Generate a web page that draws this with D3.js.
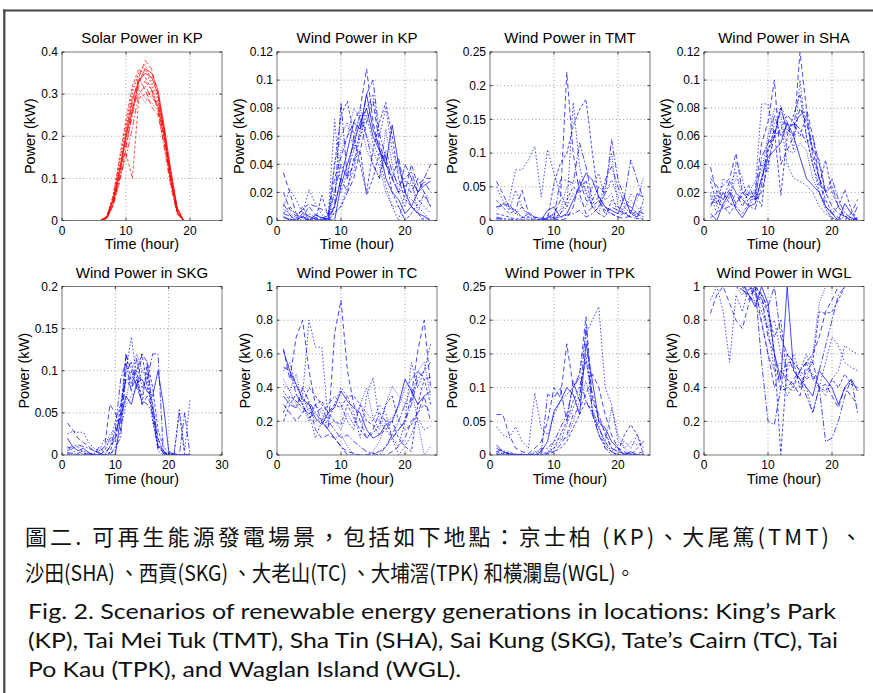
<!DOCTYPE html>
<html>
<head>
<meta charset="utf-8">
<script src="https://cdn.jsdelivr.net/npm/d3@7"></script>
<style>
  body { margin: 0; background: #fff; }
  svg { display: block; }
</style>
</head>
<body>
<div id="chart"></div>
<script>
// hourly time axis for the wind scenarios, and daylight hours for solar
const hours = [1,2,3,4,5,6,7,8,9,10,11,12,13,14,15,16,17,18,19,20,21,22,23,24];
const solarHours = [6,7,8,9,10,11,12,13,14,15,16,17,18,19];

const solarKP = [
  [0,0.010,0.050,0.12,0.20,0.28,0.34,0.38,0.36,0.30,0.20,0.10,0.020,0],
  [0,0.008,0.060,0.14,0.22,0.30,0.35,0.36,0.32,0.28,0.19,0.09,0.020,0],
  [0,0.005,0.040,0.10,0.18,0.25,0.32,0.33,0.31,0.26,0.17,0.08,0.015,0],
  [0,0.010,0.050,0.13,0.16,0.10,0.29,0.30,0.30,0.27,0.20,0.11,0.030,0],
  [0,0.006,0.045,0.11,0.20,0.27,0.30,0.28,0.31,0.30,0.22,0.12,0.025,0],
  [0,0.007,0.050,0.12,0.21,0.29,0.33,0.35,0.34,0.30,0.21,0.10,0.020,0],
  [0,0.005,0.035,0.09,0.17,0.26,0.34,0.31,0.27,0.25,0.18,0.09,0.020,0],
  [0,0.008,0.055,0.14,0.23,0.31,0.35,0.37,0.33,0.29,0.20,0.10,0.020,0],
  [0,0.006,0.040,0.10,0.15,0.22,0.30,0.32,0.29,0.28,0.21,0.11,0.030,0],
  [0,0.009,0.060,0.15,0.24,0.32,0.36,0.34,0.31,0.27,0.19,0.09,0.020,0],
  [0,0.007,0.050,0.12,0.19,0.27,0.31,0.29,0.28,0.26,0.20,0.10,0.020,0],
  [0,0.005,0.040,0.11,0.20,0.26,0.33,0.36,0.35,0.31,0.22,0.12,0.030,0]
];

const windKP = [
  [0.034,0.020,0.005,0.002,0.010,0.004,0.002,0.003,0.030,0.045,0.060,0.070,0.080,0.108,0.070,0.050,0.040,0.030,0.020,0.025,0.020,0.030,0.020,0.010],
  [0.010,0.022,0.015,0.005,0.022,0.012,0.004,0.002,0.072,0.020,0.035,0.050,0.060,0.080,0.090,0.060,0.080,0.050,0.035,0.028,0.025,0.015,0.010,0.005],
  [0.005,0.003,0.000,0.000,0.005,0.002,0.002,0.000,0.010,0.084,0.030,0.040,0.065,0.090,0.100,0.062,0.045,0.030,0.020,0.040,0.030,0.020,0.030,0.040],
  [0.000,0.000,0.000,0.010,0.000,0.000,0.018,0.003,0.040,0.075,0.085,0.060,0.040,0.020,0.050,0.070,0.084,0.060,0.030,0.015,0.010,0.005,0.000,0.000],
  [0.008,0.005,0.002,0.000,0.002,0.000,0.000,0.000,0.020,0.050,0.060,0.080,0.072,0.050,0.040,0.030,0.065,0.040,0.020,0.010,0.030,0.005,0.020,0.015],
  [0.002,0.001,0.000,0.003,0.000,0.004,0.002,0.001,0.000,0.025,0.040,0.055,0.070,0.080,0.060,0.050,0.040,0.068,0.040,0.020,0.010,0.005,0.003,0.000],
  [0.020,0.008,0.003,0.008,0.012,0.010,0.008,0.005,0.010,0.030,0.020,0.030,0.050,0.070,0.085,0.055,0.040,0.030,0.045,0.020,0.040,0.025,0.030,0.030],
  [0.000,0.000,0.000,0.000,0.000,0.000,0.000,0.000,0.005,0.010,0.025,0.035,0.060,0.075,0.055,0.045,0.025,0.010,0.000,0.020,0.015,0.010,0.005,0.000],
  [0.012,0.004,0.000,0.000,0.000,0.002,0.000,0.004,0.020,0.040,0.030,0.060,0.075,0.060,0.040,0.030,0.050,0.035,0.025,0.030,0.035,0.020,0.028,0.020],
  [0.005,0.010,0.004,0.002,0.000,0.000,0.001,0.000,0.006,0.010,0.020,0.045,0.050,0.018,0.030,0.048,0.045,0.020,0.010,0.000,0.005,0.012,0.018,0.010],
  [0.000,0.000,0.002,0.000,0.000,0.000,0.000,0.000,0.040,0.060,0.070,0.050,0.080,0.060,0.050,0.038,0.020,0.010,0.010,0.000,0.000,0.000,0.002,0.000],
  [0.003,0.000,0.000,0.005,0.003,0.001,0.000,0.002,0.010,0.030,0.050,0.070,0.065,0.090,0.065,0.052,0.030,0.020,0.015,0.005,0.010,0.020,0.025,0.028]
];

const windTMT = [
  [0.058,0.040,0.020,0.015,0.045,0.012,0.005,0.003,0.002,0.010,0.030,0.220,0.100,0.040,0.010,0.020,0.030,0.010,0.020,0.015,0.010,0.005,0.003,0.002],
  [0.020,0.025,0.030,0.075,0.075,0.090,0.110,0.035,0.105,0.070,0.040,0.020,0.175,0.080,0.040,0.020,0.020,0.040,0.060,0.035,0.020,0.030,0.020,0.010],
  [0.005,0.003,0.002,0.001,0.000,0.001,0.000,0.000,0.002,0.005,0.060,0.060,0.055,0.115,0.080,0.030,0.050,0.040,0.120,0.060,0.035,0.090,0.060,0.030],
  [0.030,0.020,0.010,0.015,0.005,0.005,0.000,0.000,0.003,0.055,0.085,0.100,0.140,0.165,0.180,0.100,0.030,0.015,0.010,0.005,0.012,0.005,0.010,0.000],
  [0.015,0.025,0.020,0.010,0.005,0.002,0.000,0.001,0.005,0.010,0.015,0.050,0.055,0.060,0.045,0.020,0.010,0.050,0.100,0.020,0.015,0.040,0.030,0.065],
  [0.001,0.000,0.000,0.000,0.001,0.000,0.000,0.001,0.015,0.020,0.005,0.010,0.030,0.050,0.070,0.060,0.035,0.020,0.015,0.010,0.035,0.010,0.040,0.035],
  [0.020,0.022,0.025,0.010,0.020,0.010,0.005,0.003,0.008,0.002,0.001,0.003,0.020,0.060,0.030,0.025,0.035,0.020,0.010,0.005,0.003,0.008,0.015,0.010],
  [0.050,0.030,0.015,0.045,0.020,0.005,0.002,0.000,0.001,0.002,0.010,0.020,0.040,0.030,0.020,0.050,0.070,0.030,0.040,0.010,0.020,0.010,0.005,0.020],
  [0.003,0.002,0.000,0.000,0.000,0.000,0.000,0.000,0.000,0.003,0.005,0.008,0.010,0.015,0.005,0.010,0.020,0.060,0.080,0.050,0.025,0.020,0.010,0.005],
  [0.010,0.008,0.005,0.002,0.004,0.010,0.003,0.000,0.005,0.004,0.010,0.030,0.050,0.040,0.060,0.020,0.010,0.005,0.030,0.020,0.010,0.015,0.005,0.030]
];

const windSHA = [
  [0.038,0.020,0.025,0.030,0.048,0.020,0.015,0.020,0.055,0.070,0.100,0.040,0.050,0.060,0.120,0.080,0.060,0.030,0.010,0.005,0.002,0.000,0.005,0.015],
  [0.020,0.010,0.030,0.025,0.035,0.015,0.018,0.022,0.083,0.083,0.060,0.082,0.070,0.050,0.100,0.060,0.040,0.020,0.008,0.002,0.000,0.003,0.000,0.002],
  [0.010,0.018,0.015,0.028,0.020,0.010,0.020,0.015,0.045,0.055,0.075,0.060,0.068,0.068,0.075,0.078,0.050,0.043,0.020,0.030,0.015,0.005,0.002,0.000],
  [0.028,0.012,0.020,0.012,0.010,0.005,0.012,0.020,0.010,0.050,0.065,0.018,0.060,0.075,0.090,0.060,0.040,0.025,0.043,0.020,0.010,0.022,0.008,0.000],
  [0.015,0.020,0.010,0.018,0.030,0.025,0.020,0.028,0.035,0.060,0.080,0.075,0.050,0.048,0.055,0.050,0.030,0.020,0.010,0.000,0.000,0.000,0.000,0.000],
  [0.005,0.000,0.012,0.020,0.008,0.002,0.010,0.012,0.030,0.045,0.050,0.055,0.070,0.060,0.045,0.030,0.025,0.020,0.010,0.005,0.000,0.012,0.005,0.000],
  [0.030,0.025,0.015,0.022,0.012,0.018,0.025,0.015,0.020,0.040,0.060,0.080,0.065,0.060,0.080,0.070,0.050,0.030,0.020,0.010,0.005,0.003,0.000,0.002],
  [0.018,0.005,0.020,0.015,0.042,0.030,0.010,0.018,0.040,0.035,0.070,0.070,0.040,0.030,0.028,0.025,0.020,0.010,0.005,0.002,0.000,0.000,0.000,0.000],
  [0.012,0.016,0.008,0.010,0.020,0.015,0.010,0.008,0.025,0.055,0.060,0.065,0.075,0.070,0.065,0.055,0.060,0.040,0.020,0.025,0.010,0.002,0.000,0.010],
  [0.002,0.005,0.010,0.005,0.012,0.020,0.018,0.015,0.030,0.050,0.060,0.080,0.062,0.070,0.060,0.075,0.045,0.030,0.015,0.005,0.010,0.003,0.002,0.000]
];

const windSKG = [
  [0.038,0.030,0.020,0.015,0.010,0.005,0.003,0.010,0.060,0.050,0.030,0.120,0.100,0.080,0.120,0.110,0.050,0.010,0.003,0.002,0.000,0.000,0.000,0.000],
  [0.025,0.028,0.027,0.027,0.015,0.008,0.005,0.020,0.015,0.040,0.060,0.100,0.140,0.090,0.070,0.100,0.040,0.010,0.005,0.000,0.000,0.055,0.005,0.065],
  [0.010,0.005,0.002,0.005,0.002,0.000,0.002,0.000,0.010,0.030,0.090,0.110,0.075,0.115,0.080,0.090,0.120,0.120,0.005,0.000,0.002,0.000,0.050,0.000],
  [0.005,0.008,0.010,0.003,0.000,0.000,0.000,0.000,0.003,0.025,0.050,0.120,0.085,0.100,0.060,0.110,0.080,0.030,0.010,0.003,0.000,0.050,0.000,0.000],
  [0.000,0.002,0.000,0.000,0.000,0.002,0.005,0.010,0.025,0.030,0.040,0.065,0.100,0.120,0.100,0.105,0.060,0.020,0.005,0.000,0.000,0.000,0.000,0.002],
  [0.020,0.010,0.005,0.008,0.003,0.000,0.000,0.000,0.000,0.000,0.045,0.070,0.060,0.085,0.090,0.075,0.070,0.100,0.060,0.005,0.000,0.000,0.000,0.000],
  [0.003,0.002,0.000,0.000,0.002,0.000,0.010,0.002,0.010,0.020,0.050,0.090,0.080,0.090,0.060,0.070,0.055,0.020,0.002,0.000,0.000,0.000,0.000,0.000],
  [0.002,0.000,0.000,0.002,0.000,0.000,0.000,0.000,0.002,0.005,0.030,0.060,0.070,0.080,0.100,0.090,0.040,0.010,0.002,0.000,0.000,0.000,0.000,0.000],
  [0.008,0.010,0.012,0.010,0.008,0.005,0.002,0.000,0.000,0.010,0.020,0.100,0.110,0.080,0.065,0.060,0.050,0.005,0.000,0.003,0.000,0.000,0.000,0.000],
  [0.001,0.000,0.000,0.000,0.000,0.001,0.000,0.005,0.020,0.015,0.060,0.090,0.090,0.100,0.120,0.080,0.060,0.012,0.003,0.000,0.000,0.000,0.000,0.000]
];

const windTC = [
  [0.63,0.45,0.70,0.80,0.50,0.30,0.20,0.15,0.72,0.92,0.50,0.30,0.20,0.10,0.15,0.25,0.20,0.10,0.15,0.20,0.35,0.62,0.80,0.40],
  [0.50,0.55,0.40,0.35,0.80,0.64,0.64,0.20,0.30,0.40,0.35,0.25,0.10,0.35,0.46,0.20,0.15,0.10,0.05,0.20,0.55,0.40,0.50,0.66],
  [0.35,0.30,0.28,0.40,0.32,0.25,0.20,0.15,0.10,0.05,0.00,0.00,0.00,0.00,0.01,0.02,0.05,0.10,0.15,0.20,0.30,0.45,0.50,0.55],
  [0.20,0.30,0.36,0.30,0.40,0.35,0.30,0.25,0.30,0.28,0.35,0.35,0.30,0.20,0.18,0.12,0.15,0.20,0.10,0.05,0.02,0.30,0.45,0.30],
  [0.45,0.38,0.30,0.25,0.28,0.20,0.22,0.18,0.20,0.15,0.25,0.18,0.30,0.40,0.22,0.15,0.30,0.41,0.35,0.30,0.40,0.20,0.00,0.05],
  [0.62,0.50,0.42,0.33,0.30,0.22,0.18,0.25,0.28,0.38,0.32,0.28,0.25,0.15,0.10,0.12,0.18,0.20,0.30,0.45,0.38,0.30,0.35,0.38],
  [0.30,0.25,0.20,0.25,0.32,0.15,0.10,0.12,0.10,0.05,0.02,0.01,0.00,0.00,0.00,0.00,0.00,0.02,0.05,0.10,0.20,0.25,0.35,0.20],
  [0.38,0.32,0.28,0.35,0.25,0.10,0.20,0.30,0.35,0.30,0.20,0.15,0.30,0.25,0.20,0.30,0.25,0.10,0.00,0.05,0.12,0.22,0.15,0.17],
  [0.52,0.50,0.36,0.30,0.22,0.25,0.28,0.20,0.15,0.10,0.12,0.08,0.05,0.02,0.01,0.00,0.05,0.12,0.20,0.30,0.32,0.50,0.45,0.46],
  [0.25,0.35,0.32,0.28,0.24,0.30,0.32,0.25,0.20,0.18,0.30,0.22,0.15,0.10,0.13,0.18,0.30,0.35,0.20,0.15,0.18,0.25,0.30,0.25],
  [0.42,0.38,0.48,0.30,0.20,0.30,0.25,0.15,0.10,0.12,0.05,0.00,0.00,0.00,0.02,0.08,0.20,0.22,0.28,0.40,0.45,0.50,0.55,0.35]
];

const windTPK = [
  [0.060,0.060,0.030,0.010,0.005,0.002,0.010,0.020,0.050,0.100,0.085,0.165,0.100,0.120,0.205,0.080,0.060,0.030,0.010,0.005,0.002,0.002,0.000,0.000],
  [0.042,0.030,0.025,0.042,0.020,0.010,0.092,0.040,0.030,0.060,0.080,0.090,0.100,0.120,0.180,0.200,0.220,0.100,0.075,0.020,0.010,0.020,0.015,0.020],
  [0.010,0.005,0.000,0.002,0.000,0.000,0.000,0.002,0.090,0.085,0.100,0.050,0.110,0.080,0.190,0.060,0.040,0.020,0.005,0.000,0.002,0.000,0.000,0.000],
  [0.005,0.002,0.005,0.000,0.000,0.000,0.000,0.000,0.002,0.010,0.030,0.050,0.080,0.100,0.140,0.090,0.050,0.035,0.010,0.005,0.030,0.045,0.030,0.000],
  [0.000,0.003,0.000,0.000,0.000,0.001,0.005,0.006,0.000,0.020,0.025,0.025,0.050,0.080,0.110,0.070,0.040,0.020,0.070,0.030,0.010,0.002,0.000,0.000],
  [0.015,0.005,0.002,0.000,0.000,0.000,0.000,0.005,0.020,0.065,0.080,0.100,0.090,0.060,0.165,0.110,0.050,0.040,0.020,0.010,0.000,0.005,0.000,0.000],
  [0.002,0.000,0.000,0.001,0.000,0.000,0.000,0.000,0.000,0.005,0.015,0.030,0.060,0.070,0.090,0.120,0.100,0.060,0.030,0.010,0.005,0.000,0.002,0.005],
  [0.000,0.000,0.000,0.000,0.002,0.000,0.000,0.000,0.005,0.010,0.020,0.045,0.070,0.090,0.150,0.065,0.045,0.010,0.005,0.015,0.020,0.010,0.030,0.010],
  [0.005,0.008,0.000,0.000,0.000,0.000,0.002,0.010,0.010,0.020,0.040,0.060,0.100,0.115,0.080,0.060,0.030,0.010,0.000,0.000,0.000,0.000,0.000,0.000],
  [0.001,0.000,0.002,0.000,0.000,0.000,0.000,0.000,0.003,0.005,0.010,0.020,0.040,0.060,0.080,0.065,0.030,0.015,0.005,0.000,0.000,0.000,0.010,0.020]
];

const windWGL = [
  [0.84,0.95,1.00,0.90,0.80,0.75,0.90,1.00,0.95,0.70,0.60,0.38,0.40,0.45,0.50,0.55,0.60,0.70,0.85,0.92,1.00,1.05,1.10,1.10],
  [0.92,1.00,0.85,0.55,0.95,0.85,1.00,0.97,0.90,0.75,0.50,0.45,0.35,0.42,0.50,0.60,0.45,0.40,0.35,0.45,0.50,0.65,0.62,0.60],
  [1.05,1.10,1.05,1.00,1.00,0.98,0.95,1.00,0.55,0.20,0.18,0.40,0.60,0.50,0.45,0.35,0.25,0.40,0.08,0.10,0.20,0.35,0.45,0.25],
  [1.10,1.05,1.05,1.02,1.00,1.05,1.00,0.98,0.96,0.85,0.60,0.00,0.55,0.55,0.40,0.50,0.55,0.85,0.84,0.85,0.92,1.00,1.05,1.10],
  [1.05,1.05,1.10,1.05,1.00,0.95,1.02,0.90,0.80,0.60,0.50,0.55,0.40,0.38,0.42,0.45,0.60,0.90,1.00,1.05,1.10,1.10,1.05,1.05],
  [1.10,1.10,1.05,1.00,1.05,1.02,0.95,0.88,1.00,0.90,0.60,0.45,1.00,0.50,0.45,0.40,0.35,0.50,0.45,0.40,0.30,0.40,0.45,0.38],
  [1.05,1.02,1.10,1.05,1.00,1.00,0.92,1.00,0.78,0.60,0.40,0.50,0.45,0.42,0.35,0.55,0.55,0.40,0.42,0.35,0.28,0.40,0.35,0.30],
  [1.10,1.10,1.10,1.05,1.05,1.00,1.00,0.95,0.85,0.75,0.80,0.60,0.50,0.60,0.48,0.40,0.25,0.40,0.55,0.70,0.65,0.55,0.52,0.50],
  [1.05,1.05,1.05,1.05,1.02,0.98,0.95,0.90,0.95,0.88,1.00,0.70,0.60,0.55,0.50,0.55,0.45,0.50,0.65,0.80,0.95,1.00,1.05,1.10],
  [1.10,1.05,1.05,1.10,1.05,1.00,0.98,1.02,0.92,0.85,0.70,0.80,0.45,0.40,0.50,0.45,0.48,0.40,0.38,0.45,0.40,0.48,0.42,0.40]
];

const titles = ["Solar Power in KP","Wind Power in KP","Wind Power in TMT","Wind Power in SHA",
                "Wind Power in SKG","Wind Power in TC","Wind Power in TPK","Wind Power in WGL"];
const yMaxes = [0.4, 0.12, 0.25, 0.12, 0.2, 1, 0.25, 1];
const yStep = [0.1, 0.02, 0.05, 0.02, 0.05, 0.2, 0.05, 0.2];
const xMaxes = [25, 25, 25, 25, 30, 25, 25, 25];
const xTickVals = [[0,10,20],[0,10,20],[0,10,20],[0,10,20],[0,10,20,30],[0,10,20],[0,10,20],[0,10,20]];

const captionZh = [
  "圖二. 可再生能源發電場景，包括如下地點：京士柏 (KP)、大尾篤(TMT) 、",
  "沙田(SHA) 、西貢(SKG) 、大老山(TC) 、大埔滘(TPK) 和橫瀾島(WGL)。"
];
const captionEn = [
  "Fig. 2.  Scenarios of renewable energy generations in locations: King\u2019s Park",
  "(KP), Tai Mei Tuk (TMT), Sha Tin (SHA), Sai Kung (SKG), Tate\u2019s Cairn (TC), Tai",
  "Po Kau (TPK), and Waglan Island (WGL)."
];

const panels = [
  {x: solarHours, series: solarKP, color: "#ff0000"},
  {x: hours, series: windKP, color: "#0000ff"},
  {x: hours, series: windTMT, color: "#0000ff"},
  {x: hours, series: windSHA, color: "#0000ff"},
  {x: hours, series: windSKG, color: "#0000ff"},
  {x: hours, series: windTC, color: "#0000ff"},
  {x: hours, series: windTPK, color: "#0000ff"},
  {x: hours, series: windWGL, color: "#0000ff"}
];

const width = 873, height = 693;
const svg = d3.select("#chart").append("svg")
  .attr("width", width).attr("height", height)
  .attr("font-family", "Arial, 'Liberation Sans', sans-serif");

svg.append("rect").attr("width", width).attr("height", height).attr("fill", "#fff");

// grey frame (top and left) of the scanned figure
svg.append("line").attr("x1", 3).attr("x2", width).attr("y1", 10.5).attr("y2", 10.5)
  .attr("stroke", "#454545").attr("stroke-width", 2.2);
svg.append("line").attr("x1", 4.3).attr("x2", 4.3).attr("y1", 9.5).attr("y2", height)
  .attr("stroke", "#454545").attr("stroke-width", 2.2);

const colLeft = [62, 277, 490, 704];
const rowTop = [52, 286.5];
const pw = 160, ph = 168.5;
const dashes = ["5,3", "1.5,2", "6,2,1.5,2", "3,2", "1,1.5", null];

panels.forEach((p, i) => {
  const left = colLeft[i % 4], top = rowTop[Math.floor(i / 4)];
  const g = svg.append("g").attr("transform", `translate(${left},${top})`);

  const x = d3.scaleLinear().domain([0, xMaxes[i]]).range([0, pw]);
  const y = d3.scaleLinear().domain([0, yMaxes[i]]).range([ph, 0]);
  const nT = Math.round(yMaxes[i] / yStep[i]);
  const yTicks = d3.range(nT + 1).map(k => +(k * yStep[i]).toFixed(3));

  // dotted grid
  const grid = g.append("g").attr("stroke", "#8a8a8a").attr("stroke-width", 0.8)
    .attr("stroke-dasharray", "1,2.5");
  grid.selectAll(".gx").data(xTickVals[i].filter(v => v > 0 && v < xMaxes[i])).join("line")
    .attr("x1", d => x(d)).attr("x2", d => x(d)).attr("y1", 0).attr("y2", ph);
  grid.selectAll(".gy").data(yTicks.filter(v => v > 0 && v < yMaxes[i])).join("line")
    .attr("x1", 0).attr("x2", pw).attr("y1", d => y(d)).attr("y2", d => y(d));

  // scenario lines, clipped to the axes
  g.append("clipPath").attr("id", "clip" + i)
    .append("rect").attr("width", pw).attr("height", ph);
  const line = d3.line().x((d, k) => x(p.x[k])).y(d => y(d));
  g.append("g").attr("clip-path", `url(#clip${i})`)
    .selectAll("path").data(p.series).join("path")
      .attr("d", line)
      .attr("fill", "none")
      .attr("stroke", p.color)
      .attr("stroke-width", 0.9)
      .attr("stroke-opacity", 0.8)
      .attr("stroke-dasharray", (d, k) => dashes[k % dashes.length]);

  // axes box
  g.append("rect").attr("width", pw).attr("height", ph)
    .attr("fill", "none").attr("stroke", "#7a7a7a").attr("stroke-width", 1);

  // inward ticks on all four sides
  const tk = g.append("g").attr("stroke", "#333").attr("stroke-width", 1);
  xTickVals[i].forEach(v => {
    tk.append("line").attr("x1", x(v)).attr("x2", x(v)).attr("y1", ph).attr("y2", ph - 2.5);
    tk.append("line").attr("x1", x(v)).attr("x2", x(v)).attr("y1", 0).attr("y2", 2.5);
  });
  yTicks.forEach(v => {
    tk.append("line").attr("x1", 0).attr("x2", 2.5).attr("y1", y(v)).attr("y2", y(v));
    tk.append("line").attr("x1", pw).attr("x2", pw - 2.5).attr("y1", y(v)).attr("y2", y(v));
  });

  // tick labels
  const fmt = d3.format("~g");
  const yl = g.append("g").attr("font-size", 12).attr("fill", "#000").attr("text-anchor", "end");
  yl.selectAll("text").data(yTicks).join("text")
    .attr("x", -4).attr("y", d => y(d)).attr("dy", "0.35em")
    .text(d => fmt(d));
  let maxW = 0;
  yl.selectAll("text").each(function () { maxW = Math.max(maxW, this.getComputedTextLength()); });

  g.append("g").attr("font-size", 12).attr("fill", "#000").attr("text-anchor", "middle")
    .selectAll("text").data(xTickVals[i]).join("text")
      .attr("x", d => x(d)).attr("y", ph + 14)
      .text(d => fmt(d));

  // titles and axis labels
  g.append("text").attr("x", pw / 2).attr("y", -9).attr("text-anchor", "middle")
    .attr("font-size", 15).attr("fill", "#000").text(titles[i]);
  g.append("text").attr("x", pw / 2).attr("y", ph + 28.5).attr("text-anchor", "middle")
    .attr("font-size", 14.5).attr("fill", "#000").text("Time (hour)");
  g.append("text")
    .attr("transform", `translate(${-maxW - 10},${ph / 2}) rotate(-90)`)
    .attr("text-anchor", "middle").attr("font-size", 14.5).attr("fill", "#000")
    .text("Power (kW)");
});

// captions
// Chinese: first line justified (extra spacing), last line squeezed a little
const zhFont = "'Noto Sans CJK TC', 'Noto Sans CJK SC', sans-serif";
const zhY = [545, 581];
const zhLen = [837, 610];
const zhAdjust = ["spacing", "spacingAndGlyphs"];
captionZh.forEach((t, k) => {
  svg.append("text").attr("x", 25).attr("y", zhY[k])
    .attr("font-family", zhFont).attr("font-size", 22).attr("fill", "#111")
    .attr("textLength", zhLen[k]).attr("lengthAdjust", zhAdjust[k])
    .text(t);
});
const enY = [619, 648, 677];
const enLen = [808, 810, 433];
captionEn.forEach((t, k) => {
  svg.append("text").attr("x", 28).attr("y", enY[k])
    .attr("font-family", "Lato, 'Open Sans', sans-serif")
    .attr("font-size", 21.5).attr("fill", "#111")
    .attr("textLength", enLen[k]).attr("lengthAdjust", "spacingAndGlyphs")
    .text(t);
});
</script>
</body>
</html>
